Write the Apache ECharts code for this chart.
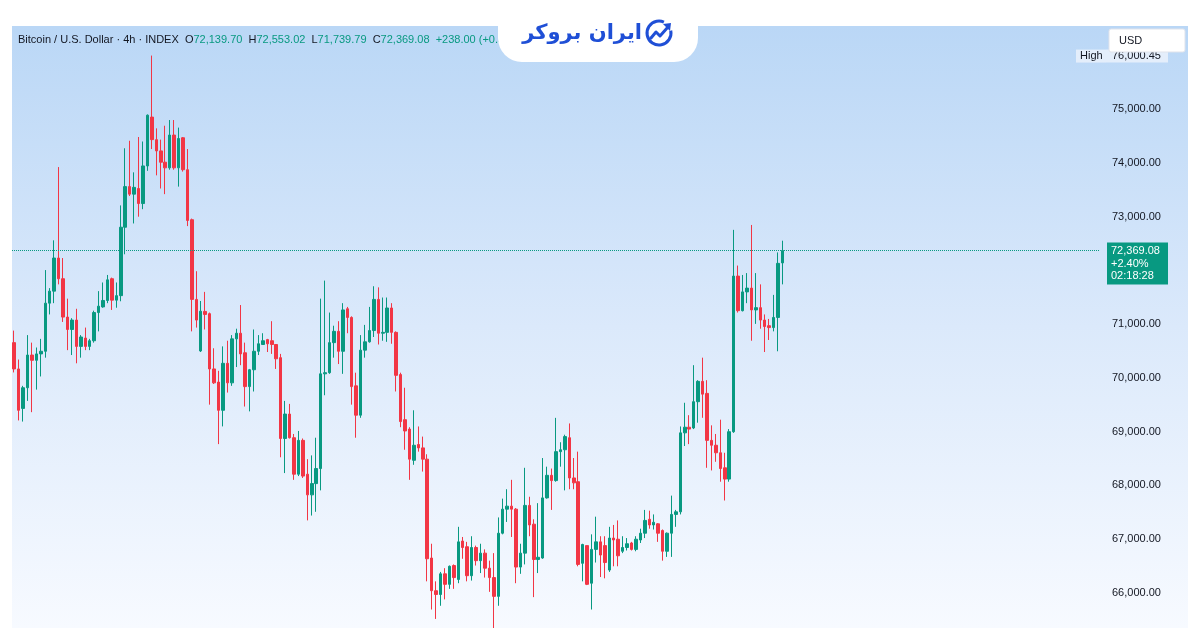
<!DOCTYPE html>
<html>
<head>
<meta charset="utf-8">
<script src="https://cdn.jsdelivr.net/npm/echarts@6.0.0/dist/echarts.min.js"></script>
<style>
  html, body { margin: 0; padding: 0; background: #fff; }
  #chart { width: 1200px; height: 628px; }
</style>
</head>
<body>
<div id="chart"></div>
<script>
// BTC/USD 4h candles
const opens = [
  70655,70165,69430,69815,70424,70326,70445,70494,71390,71614,72230,71845,71131,70900,71075,70585,70740,70585,70690,71215,
  71320,71440,71845,71446,71530,72804,73560,73420,73525,73245,73945,74855,74435,74225,74015,73910,74520,73910,74470,73875,72944,71460,
  70500,71236,71194,70165,69920,69395,70270,69906,70725,70830,70466,69836,70150,70494,70620,70711,70690,70620,70375,68870,69325,68884,68205,
  68835,68205,67820,68030,68310,70074,70095,70655,70865,70494,71285,71124,69850,69304,70515,70670,70880,71460,70830,70846,71300,70846,
  70060,69220,69045,68464,68758,68695,68485,66644,66035,65965,66350,66154,66504,66245,66960,66854,66315,66840,66595,66735,66455,66280,65930,
  67106,67554,67610,67554,66476,66735,67624,67274,66616,66644,67764,68184,68086,68625,68660,68884,68135,68065,66546,66875,66175,66805,66945,
  66875,66420,67016,66994,66770,66840,66924,66805,66980,67106,67365,67260,67281,67156,66770,67106,67456,67504,68975,69080,69066,69555,
  69934,69710,68835,68744,68604,68324,68114,68996,71894,71250,71600,71670,71264,71306,71075,70970,70935,71124,72139.70
];
const closes = [
  70165,69395,69815,70424,70326,70445,70494,71390,71614,72230,71845,71131,70900,71075,70585,70760,70585,70690,71215,71334,
  71440,71824,71446,71530,72804,73560,73420,73546,73245,73945,74890,74435,74225,74015,73910,74520,73910,74456,73875,72930,71460,71075,
  71240,71180,70165,69906,69395,70270,69906,70725,70830,70445,69836,70150,70494,70634,70690,70634,70620,70354,68870,69325,68884,68205,68835,
  68170,67820,68030,68310,70074,70095,70655,70865,70494,71264,71124,69836,69304,70515,70670,70880,71460,70830,70846,71300,70846,70046,
  69185,69010,68485,68744,68695,68485,66630,66035,65965,66350,66154,66490,66280,66945,66840,66315,66840,66595,66735,66455,66280,65930,67106,
  67554,67610,67554,66476,66735,67624,67260,66616,66658,67764,68184,68086,68625,68660,68905,68135,68044,66525,66896,66154,66805,66945,66700,
  66560,67016,66980,66686,66840,66910,66805,66994,67106,67344,67260,67310,67106,66770,67106,67456,67504,68975,69080,69045,69555,69934,
  69696,68835,68744,68604,68310,68114,68996,71894,71250,71600,71670,71264,71306,71075,70955,70935,71124,72131.08,72369.08
];
const lows = [
  70100,69206,69185,69570,69360,69780,70025,70375,71180,71390,71740,71040,70515,70424,70270,70375,70515,70515,70655,70865,
  71305,71390,71264,71305,71425,72300,73385,72874,73000,73140,73854,74260,73770,73525,73420,73875,73875,73560,73840,72825,70865,70935,
  70480,70900,69500,69885,68765,69095,69725,69850,70200,70235,69465,69375,69745,70424,70620,70480,70445,70165,68520,68226,68870,68100,68170,
  68135,67345,67435,67505,67904,69675,70074,70375,70256,70074,70830,69500,68884,69255,70375,70655,70760,70620,70690,70670,70634,69745,
  69080,68660,68100,68380,68625,68254,66210,65685,65510,65755,65874,66070,66070,66175,66630,66210,66224,66504,66364,66280,66014,65314,65755,
  67085,67316,67036,66175,66350,66525,67050,65916,66364,66630,67750,67540,68065,68345,67904,67925,67925,66490,66210,66140,65685,66560,66290,
  66266,66385,66490,66490,66735,66784,66784,66770,66924,67016,67190,67175,66945,66595,66665,66665,67225,67456,68730,68765,69045,69164,
  69255,68324,68275,68436,68065,67715,68065,68975,71215,71236,71390,70690,71004,70914,70480,70704,70865,70494,71739.79
];
const highs = [
  70879,70340,69850,70795,70655,70564,70725,72006,71670,72560,73924,72230,71474,71110,71285,70795,70935,70725,71250,71614,
  71775,71915,71866,71775,73210,74274,74414,73826,74484,74400,74904,76000.45,74645,74435,74694,74800,74800,74659,74484,74260,72965,71985,
  71430,71600,71215,70550,70130,70585,70690,70795,70914,71355,70655,70165,70900,70795,70830,70725,71054,70620,70445,69570,69514,68954,69010,
  68870,68485,68555,68884,71474,71810,71215,70970,71054,71390,71320,71145,70095,70795,70985,71320,71705,71684,71495,71495,71390,70865,
  70095,69815,69080,69395,69094,68905,68576,66910,66210,66385,66455,66505,66525,67225,67036,66945,67050,66875,66910,66805,66595,66735,67400,
  67750,67925,68100,67575,66910,68324,67785,67365,67666,68506,68345,68310,69254,68800,68940,69150,68506,68625,66910,66875,67085,67414,67050,
  67050,67225,67260,67344,67050,67016,66945,67050,67190,67540,67526,67456,67295,67176,67120,67806,67540,69094,69535,69304,70235,69955,
  70375,69955,69115,68954,69220,68604,69045,72755,72090,71915,71950,72846,71950,71740,71180,71096,71544,72335,72553.02
];
const priceTicks = [66000, 67000, 68000, 69000, 70000, 71000, 72000, 73000, 74000, 75000];
const symbolName = 'Bitcoin / U.S. Dollar · 4h · INDEX';
const dayChangePct = '+2.40%';
const countdown = '02:18:28';

const EMPTY_SLOTS = 71;            // free space right of the last candle
const UP = '#089981';
const DOWN = '#f23645';
const TEXT = '#131722';
const FONT = '"Liberation Sans", Arial, sans-serif';

// 4h bar times (not shown, only used as categories)
const times = [];
for (let i = 0; i < opens.length; i++) times.push('bar ' + (i + 1));

const fmt = v => v.toLocaleString('en-US', { minimumFractionDigits: 2, maximumFractionDigits: 2 });

const n = opens.length;
const last = { o: opens[n - 1], h: highs[n - 1], l: lows[n - 1], c: closes[n - 1] };
const change = last.c - closes[n - 2];
const topHigh = Math.max(...highs);

const chart = echarts.init(document.getElementById('chart'));

chart.setOption({
  animation: false,
  backgroundColor: '#ffffff',
  grid: { left: 12, right: 100, top: 26, bottom: 0 },
  xAxis: {
    type: 'category',
    data: times.concat(new Array(EMPTY_SLOTS).fill('')),
    boundaryGap: true,
    axisLine: { show: false },
    axisTick: { show: false },
    axisLabel: { show: false },
    splitLine: { show: false },
  },
  yAxis: {
    type: 'value',
    position: 'right',
    min: 65341,
    max: 76551,
    axisLine: { show: false },
    axisTick: { show: false },
    splitLine: { show: false },
    axisLabel: {
      customValues: priceTicks,
      margin: 12,
      color: TEXT,
      fontSize: 11,
      fontFamily: FONT,
      formatter: v => fmt(v),
    },
  },
  series: [{
    type: 'candlestick',
    data: opens.map((o, i) => [o, closes[i], lows[i], highs[i]]),
    barWidth: 3,
    itemStyle: {
      color: UP, color0: DOWN,
      borderColor: UP, borderColor0: DOWN,
      borderWidth: 1,
    },
    markLine: {
      silent: true,
      symbol: ['none', 'none'],
      label: { show: false },
      lineStyle: { color: UP, type: 'dotted', width: 1 },
      data: [{ yAxis: last.c }],
    },
  }],
});

const yLast = chart.convertToPixel({ yAxisIndex: 0 }, last.c);
const yHigh = chart.convertToPixel({ yAxisIndex: 0 }, topHigh);

const txt = (x, y, text, extra) => Object.assign({
  type: 'text', x, y, z: 120,
  style: Object.assign({ text, fill: TEXT, font: '11px ' + FONT, align: 'left', verticalAlign: 'middle',
    textAlign: 'left', textVerticalAlign: 'middle' }, extra || {}),
}, {});

chart.setOption({
  graphic: [
    // chart pane background
    {
      type: 'rect', z: -10, silent: true,
      shape: { x: 12, y: 26, width: 1176, height: 602 },
      style: {
        fill: new echarts.graphic.LinearGradient(0, 0, 0, 1, [
          { offset: 0, color: '#bad7f6' },
          { offset: 0.5, color: '#dbe9fb' },
          { offset: 1, color: '#f7faff' },
        ]),
      },
    },
    // legend line
    {
      type: 'text', x: 18, y: 40, z: 100,
      style: {
        text: `{n|${symbolName}  O}{v|${fmt(last.o)}}{n|  H}{v|${fmt(last.h)}}{n|  L}{v|${fmt(last.l)}}{n|  C}{v|${fmt(last.c)}}{v|  +${fmt(change)} (+0.33%)}`,
        verticalAlign: 'middle', textVerticalAlign: 'middle',
        rich: {
          n: { fill: TEXT, fontSize: 11, fontFamily: FONT },
          v: { fill: UP, fontSize: 11, fontFamily: FONT },
        },
      },
    },
    // logo badge
    {
      type: 'rect', z: 110,
      shape: { x: 498, y: -30, width: 200, height: 92, r: 24 },
      style: { fill: '#ffffff' },
    },
    txt(642, 34, 'ایران بروکر', {
      fill: '#1f4fd6', font: 'bold 21px "DejaVu Sans", sans-serif',
      align: 'right', textAlign: 'right',
    }),
    {
      type: 'group', x: 659, y: 33, z: 120,
      children: [
        {
          type: 'arc', z: 120,
          shape: { cx: 0, cy: 0, r: 12, startAngle: -0.2, endAngle: -1.15 + Math.PI * 2, clockwise: true },
          style: { stroke: '#1f4fd6', lineWidth: 3, fill: null },
        },
        {
          type: 'polyline', z: 120,
          shape: { points: [[-8, 5], [-3, -1], [1, 3], [9, -6]] },
          style: { stroke: '#1f4fd6', lineWidth: 3, fill: null, lineJoin: 'round', lineCap: 'round' },
        },
        {
          type: 'polygon', z: 120,
          shape: { points: [[4, -9], [12, -10], [11, -2]] },
          style: { fill: '#1f4fd6' },
        },
      ],
    },
    // "High" tag
    {
      type: 'rect', z: 105,
      shape: { x: 1076, y: yHigh - 6, width: 30, height: 13 },
      style: { fill: '#e4eefb' },
    },
    txt(1080, yHigh + 0.5, 'High', { z: 106 }),
    {
      type: 'rect', z: 105,
      shape: { x: 1106, y: yHigh - 6, width: 62, height: 13 },
      style: { fill: '#e4eefb' },
    },
    txt(1112, yHigh + 0.5, fmt(topHigh)),
    // currency box
    {
      type: 'rect', z: 130,
      shape: { x: 1109, y: 29, width: 76, height: 23, r: 2 },
      style: { fill: '#ffffff', stroke: '#e0e3eb', lineWidth: 1 },
    },
    Object.assign(txt(1119, 41, 'USD'), { z: 131 }),
    // last price tag
    {
      type: 'rect', z: 130,
      shape: { x: 1107, y: yLast - 8, width: 61, height: 42 },
      style: { fill: UP },
    },
    Object.assign(txt(1111, yLast + 0.5, fmt(last.c), { fill: '#ffffff' }), { z: 131 }),
    Object.assign(txt(1111, yLast + 13, dayChangePct, { fill: '#ffffff' }), { z: 131 }),
    Object.assign(txt(1111, yLast + 25.5, countdown, { fill: '#ffffff' }), { z: 131 }),
  ],
});
</script>
</body>
</html>
